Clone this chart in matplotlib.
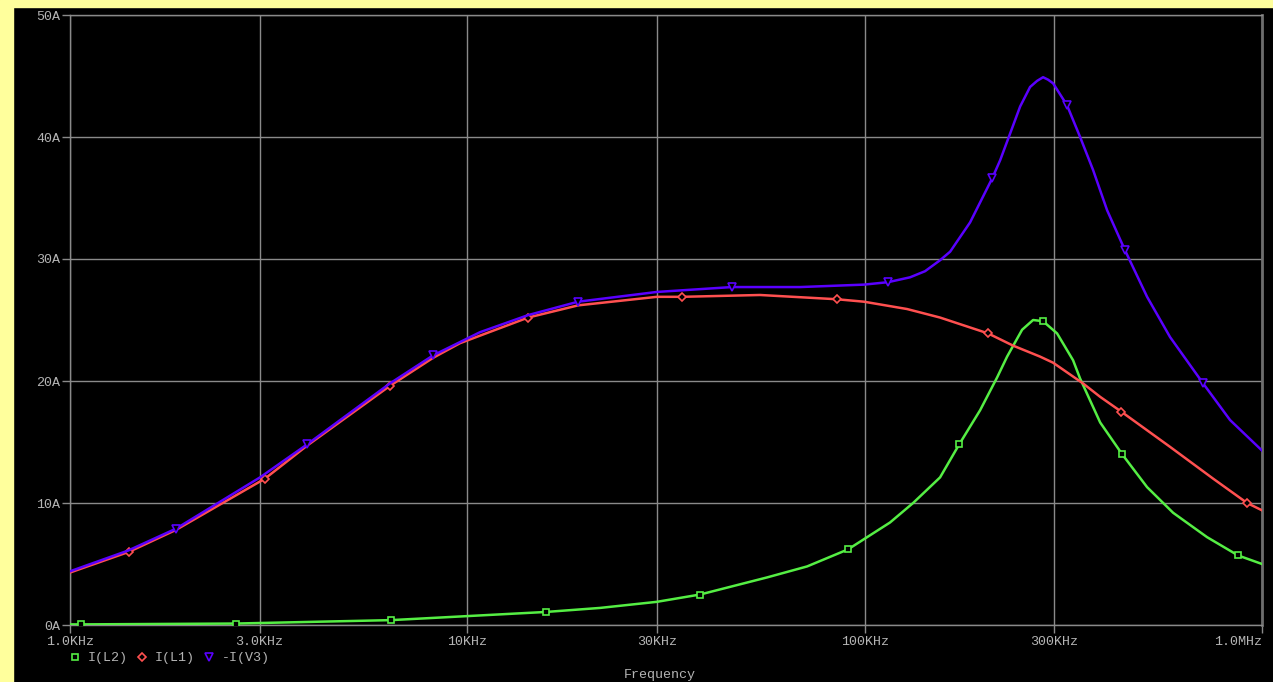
import matplotlib.pyplot as plt
from matplotlib.lines import Line2D
from matplotlib.patches import Rectangle

# -I(V3) trace
f_v3 = [1000, 1400, 1849, 3008, 3950, 6385, 8200, 10760, 14220, 19000,
        30000, 46380, 68780, 99600, 114500, 130100, 141900, 154800, 164100,
        184200, 209300, 219300, 232400, 246200, 260800, 271600, 281200,
        289400, 298000, 323100, 348500, 375700, 407500, 452300, 513800,
        587000, 711000, 831000, 1000000]
i_v3 = [4.4, 6.1, 7.9, 12.1, 14.8, 19.8, 22.1, 24.0, 25.4, 26.5,
        27.3, 27.7, 27.7, 27.9, 28.1, 28.5, 29.0, 29.9, 30.6,
        33.0, 36.6, 38.1, 40.3, 42.5, 44.1, 44.6, 44.9,
        44.7, 44.4, 42.6, 40.0, 37.3, 34.0, 30.7, 26.9,
        23.6, 19.8, 16.8, 14.3]
mk_v3 = [2, 4, 6, 9, 11, 14, 20, 29, 33, 36]

# I(L1) trace
f_l1 = [1000, 1408, 1849, 3096, 3950, 6385, 8200, 9585, 14220, 19000,
        30000, 34710, 54540, 85210, 99600, 127800, 154800, 204500, 236300,
        276300, 298000, 354500, 391500, 441900, 587000, 753100, 917300,
        1000000]
i_l1 = [4.3, 6.0, 7.8, 12.0, 14.7, 19.6, 21.9, 23.1, 25.2, 26.2,
        26.9, 26.9, 27.05, 26.7, 26.5, 25.9, 25.2, 23.9, 22.9,
        22.0, 21.5, 19.8, 18.7, 17.5, 14.6, 12.0, 10.0,
        9.4]
mk_l1 = [1, 3, 5, 8, 11, 13, 17, 23, 26]

# I(L2) trace
f_l2 = [1000, 1066, 2617, 6427, 15780, 21580, 30000, 38540, 56800, 71620,
        90820, 115800, 132400, 154800, 172900, 195200, 215500, 228300,
        249000, 265400, 281200, 305000, 334600, 348500, 391500, 444600,
        513800, 597400, 727400, 870800, 1000000]
i_l2 = [0.05, 0.05, 0.12, 0.4, 1.07, 1.4, 1.9, 2.5, 3.9, 4.8,
        6.2, 8.4, 10.0, 12.1, 14.8, 17.6, 20.3, 22.0,
        24.2, 25.0, 24.9, 23.9, 21.7, 20.2, 16.6, 14.0,
        11.3, 9.2, 7.2, 5.7, 5.0]
mk_l2 = [1, 2, 3, 4, 7, 10, 14, 20, 25, 29]

x_ticks = [1e3, 3e3, 1e4, 3e4, 1e5, 3e5, 1e6]
x_labels = ["1.0KHz", "3.0KHz", "10KHz", "30KHz", "100KHz", "300KHz", "1.0MHz"]
y_ticks = [0, 10, 20, 30, 40, 50]
y_labels = ["0A", "10A", "20A", "30A", "40A", "50A"]

GREEN = "#55ee44"
RED = "#ff5050"
BLUE = "#5a00ff"
GRID = "#8a8a8a"
TEXT = "#b4b4b4"
FONT = "Liberation Mono"

W, H = 1273, 682
fig = plt.figure(figsize=(W / 100, H / 100), dpi=100, facecolor="black")

# yellow window border strips (left and top)
fig.add_artist(Rectangle((0, 0), 13 / W, 1, transform=fig.transFigure,
                         color="#ffff9c", zorder=0))
fig.add_artist(Rectangle((0, 1 - 7 / H), 1, 7 / H, transform=fig.transFigure,
                         color="#ffff9c", zorder=0))

ax = fig.add_axes([70 / W, (H - 625) / H, (1262 - 70) / W, (625 - 15) / H])
ax.set_facecolor("black")
ax.set_xscale("log")
ax.set_xlim(1e3, 1e6)
ax.set_ylim(0, 50)

ax.plot(f_l2, i_l2, color=GREEN, lw=1.8, marker="s", markevery=mk_l2,
        ms=5, mfc="black", mec=GREEN, mew=1.2, zorder=3)
ax.plot(f_l1, i_l1, color=RED, lw=1.8, marker="D", markevery=mk_l1,
        ms=4, mfc="black", mec=RED, mew=1.2, zorder=3)
ax.plot(f_v3, i_v3, color=BLUE, lw=1.8, marker="v", markevery=mk_v3,
        ms=5.5, mfc="black", mec=BLUE, mew=1.2, zorder=4)

ax.set_xticks(x_ticks)
ax.set_xticklabels(x_labels)
ax.minorticks_off()
ax.set_yticks(y_ticks)
ax.set_yticklabels(y_labels)
ax.grid(True, color=GRID, lw=1)
ax.tick_params(colors=GRID, labelcolor=TEXT, length=6, width=1)
ax.tick_params(axis="y", pad=1)
ax.tick_params(axis="x", pad=2)
for lab in ax.get_xticklabels() + ax.get_yticklabels():
    lab.set_family(FONT)
    lab.set_fontsize(9.6)
ax.get_xticklabels()[-1].set_ha("right")
for s in ax.spines.values():
    s.set_color(GRID)
    s.set_linewidth(1)
ax.spines["right"].set_color("#6e6e6e")
ax.spines["right"].set_linewidth(2)

handles = [
    Line2D([], [], ls="none", marker="s", ms=5, mfc="black", mec=GREEN, mew=1.2),
    Line2D([], [], ls="none", marker="D", ms=4, mfc="black", mec=RED, mew=1.2),
    Line2D([], [], ls="none", marker="v", ms=5.5, mfc="black", mec=BLUE, mew=1.2),
]
leg = fig.legend(handles, ["I(L2)", "I(L1)", "-I(V3)"], ncol=3,
                 loc="center left", bbox_to_anchor=(70 / W, 1 - 658 / H),
                 frameon=False, handlelength=0.7, handletextpad=0.6,
                 columnspacing=0.75, borderpad=0, borderaxespad=0,
                 prop={"family": FONT, "size": 9.6})
for t in leg.get_texts():
    t.set_color(TEXT)

fig.text(660 / W, 1 - 675 / H, "Frequency", color=TEXT, family=FONT,
         fontsize=9.6, ha="center", va="center")

fig.savefig("out.png", dpi=100, facecolor="black")
